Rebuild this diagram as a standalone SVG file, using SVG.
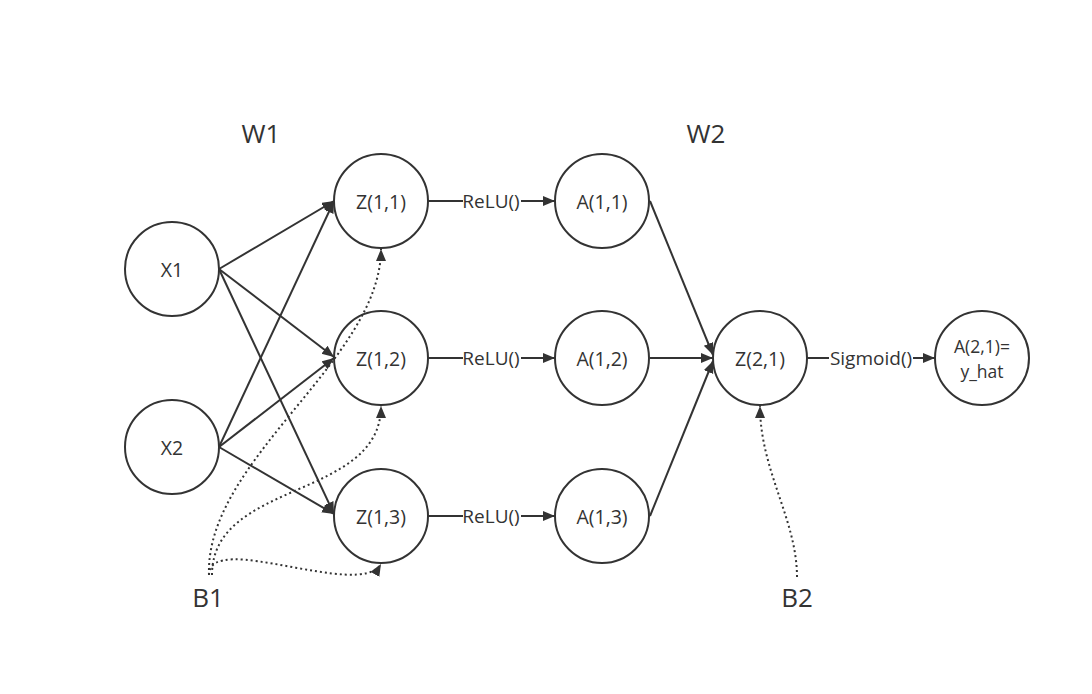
<svg xmlns="http://www.w3.org/2000/svg" width="1092" height="694" viewBox="0 0 1092 694">
  <style>
    .node circle { fill: #ffffff; stroke: #333333; stroke-width: 2; }
    .node text { font-family: "Open Sans", "Noto Sans", "DejaVu Sans", sans-serif; font-size: 19.5px; fill: #333333; text-anchor: middle; dominant-baseline: central; }
    .node text.two { font-size: 17.5px; }
    .edge { fill: none; stroke: #333333; stroke-width: 2; marker-end: url(#arrow); }
    .dot { fill: none; stroke: #333333; stroke-width: 2; stroke-dasharray: 2 3; marker-end: url(#arrow); }
    .elabel { font-family: "Open Sans", "Noto Sans", "DejaVu Sans", sans-serif; font-size: 19px; fill: #333333; text-anchor: middle; dominant-baseline: central; }
    .lbgr { fill: #ffffff; }
    .title { font-family: "Open Sans", "Noto Sans", "DejaVu Sans", sans-serif; font-size: 26px; fill: #333333; text-anchor: middle; dominant-baseline: central; }
  </style>
  <defs>
    <marker id="arrow" markerUnits="userSpaceOnUse" markerWidth="14" markerHeight="12" refX="12" refY="5" orient="auto">
      <path d="M0,0 L12,5 L0,10 z" fill="#333333"/>
    </marker>
  </defs>
  <rect width="1092" height="694" fill="#ffffff"/>

  <!-- layer weight / bias labels -->
  <text class="title" x="261" y="133">W1</text>
  <text class="title" x="706" y="133">W2</text>
  <text class="title" x="208" y="597">B1</text>
  <text class="title" x="797" y="597">B2</text>

  <g id="x1" class="node"><circle cx="172" cy="269" r="47"/><text x="172" y="269">X1</text></g>
  <g id="x2" class="node"><circle cx="172" cy="447" r="47"/><text x="172" y="447">X2</text></g>
  <g id="z11" class="node"><circle cx="381" cy="201" r="47"/><text x="381" y="201">Z(1,1)</text></g>
  <g id="z12" class="node"><circle cx="381" cy="358" r="47"/><text x="381" y="358">Z(1,2)</text></g>
  <g id="z13" class="node"><circle cx="381" cy="516" r="47"/><text x="381" y="516">Z(1,3)</text></g>
  <g id="a11" class="node"><circle cx="602" cy="201" r="47"/><text x="602" y="201">A(1,1)</text></g>
  <g id="a12" class="node"><circle cx="602" cy="358" r="47"/><text x="602" y="358">A(1,2)</text></g>
  <g id="a13" class="node"><circle cx="602" cy="516" r="47"/><text x="602" y="516">A(1,3)</text></g>
  <g id="z21" class="node"><circle cx="760" cy="358" r="47"/><text x="760" y="358">Z(2,1)</text></g>
  <g id="a21" class="node"><circle cx="982" cy="358" r="47"/><text class="two" x="982" y="346">A(2,1)=</text><text class="two" x="982" y="371">y_hat</text></g>

  <!-- connectors are drawn above the nodes so the bias curves stay visible -->
  <g id="connectors">
    <!-- input to hidden layer -->
    <path class="edge" d="M219,269 L334,201"/>
    <path class="edge" d="M219,269 L334,357"/>
    <path class="edge" d="M219,269 L334,514"/>
    <path class="edge" d="M219,447 L334,201"/>
    <path class="edge" d="M219,447 L334,358"/>
    <path class="edge" d="M219,447 L334,514"/>
    <!-- activations -->
    <path class="edge" d="M428,201 L555,201"/>
    <path class="edge" d="M428,358 L555,358"/>
    <path class="edge" d="M428,516 L555,516"/>
    <!-- hidden to output -->
    <path class="edge" d="M650,201 L713,355"/>
    <path class="edge" d="M650,358 L713,358"/>
    <path class="edge" d="M650,516 L713,361"/>
    <path class="edge" d="M807,358 L935,358"/>
    <!-- bias links -->
    <path class="dot" d="M209,575 C205,460 381,360 381,249"/>
    <path class="dot" d="M212,575 C212,480 381,500 381,406"/>
    <path class="dot" d="M209,575 C209,530 360,600 381,564"/>
    <path class="dot" d="M797,577 C797,520 760,470 760,406"/>
    <!-- edge labels -->
    <rect class="lbgr" x="463" y="190" width="58" height="22"/>
    <text class="elabel" x="491" y="201">ReLU()</text>
    <rect class="lbgr" x="463" y="347" width="58" height="22"/>
    <text class="elabel" x="491" y="358">ReLU()</text>
    <rect class="lbgr" x="463" y="505" width="58" height="22"/>
    <text class="elabel" x="491" y="516">ReLU()</text>
    <rect class="lbgr" x="829" y="347" width="84" height="22"/>
    <text class="elabel" x="871" y="358">Sigmoid()</text>
  </g>
</svg>
